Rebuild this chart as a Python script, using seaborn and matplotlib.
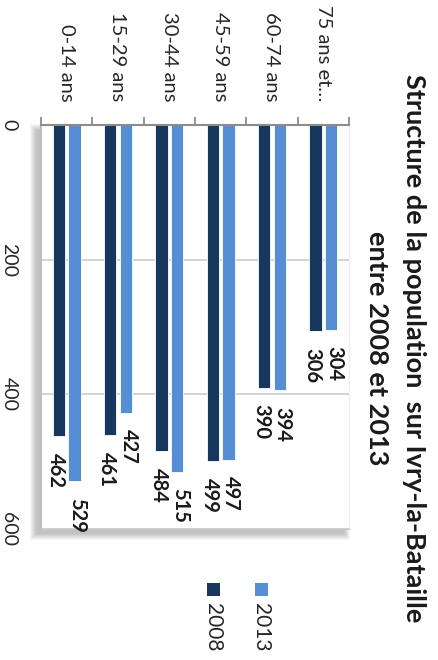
import matplotlib
matplotlib.use("Agg")
import matplotlib.pyplot as plt
from matplotlib.patches import Rectangle
import seaborn as sns
import pandas as pd

# Age groups and population counts per census year
age_groups = ["0-14 ans", "15-29 ans", "30-44 ans", "45-59 ans", "60-74 ans", "75 ans et…"]
pop_2008 = [462, 461, 484, 499, 390, 306]
pop_2013 = [529, 427, 515, 497, 394, 304]
years = ["2008", "2013"]
value_ticks = [0, 200, 400, 600]

title_line1 = "Structure de la population  sur Ivry-la-Bataille"
title_line2 = "entre 2008 et 2013"

colors = {"2008": "#17375E", "2013": "#558ED5"}

df = pd.DataFrame({
    "age": age_groups * 2,
    "pop": pop_2008 + pop_2013,
    "year": ["2008"] * len(age_groups) + ["2013"] * len(age_groups),
})

sns.set_theme(style="white")
plt.rcParams["font.family"] = ["Lato", "DejaVu Sans"]

W, H = 438, 660
fig = plt.figure(figsize=(W / 100, H / 100), dpi=100)
fig.patch.set_facecolor("white")


def fx(px):
    return px / W


def fy(py):
    return 1 - py / H


# plot area in pixel coordinates (top-left origin)
px0, px1, py_top, py_bot = 41, 349, 125, 529

# soft drop shadow behind the plot area
for k in range(7):
    sx0 = px0 - 5 - k
    sx1 = px1 - 5 + k
    sy0 = py_top + 5 - k
    sy1 = py_bot + 5 + k
    fig.patches.append(Rectangle((fx(sx0), fy(sy1)), fx(sx1) - fx(sx0), fy(sy0) - fy(sy1),
                                 transform=fig.transFigure, facecolor="#000000",
                                 alpha=0.035, edgecolor="none", zorder=0))

ax = fig.add_axes([fx(px0), fy(py_bot), fx(px1) - fx(px0), fy(py_top) - fy(py_bot)])
ax.set_facecolor("white")
ax.set_zorder(2)

sns.barplot(data=df, x="age", y="pop", hue="year", order=age_groups, hue_order=years,
            palette=colors, width=0.6, gap=0.2, ax=ax, legend=False,
            edgecolor="white", linewidth=0.6, saturation=1)

ax.set_ylim(600, 0)
ax.set_xlim(-0.5, len(age_groups) - 0.5)
ax.set_xlabel("")
ax.set_ylabel("")

# value gridlines
ax.set_yticks(value_ticks)
for v in value_ticks[1:-1]:
    ax.axhline(v, color="#D0D0D0", linewidth=1.3, zorder=0)

# category axis along the top, ticks between groups
ax.xaxis.tick_top()
ax.set_xticks(range(len(age_groups)))
ax.set_xticks([i - 0.5 for i in range(len(age_groups) + 1)], minor=True)
ax.tick_params(axis="x", which="major", length=0, pad=17)
ax.tick_params(axis="x", which="minor", length=6, width=1.3, color="#8C8C8C", top=True, bottom=False)
ax.set_xticklabels(age_groups, rotation=-90, fontsize=14.5, color="#262626", ha="center", va="bottom")

ax.tick_params(axis="y", length=0, pad=17)
ax.set_yticklabels([str(v) for v in value_ticks], rotation=-90, fontsize=14, color="#262626",
                   ha="right", va="center")

for side in ["left", "right", "bottom", "top"]:
    ax.spines[side].set_visible(True)
ax.spines["top"].set_color("#8C8C8C")
ax.spines["top"].set_linewidth(1.5)
ax.spines["left"].set_color("#BDBDBD")
ax.spines["left"].set_linewidth(1.5)
ax.spines["bottom"].set_color("#C8C8C8")
ax.spines["bottom"].set_linewidth(1.2)
ax.spines["right"].set_color("#EEEEEE")
ax.spines["right"].set_linewidth(1.0)

# value labels beyond the end of each bar, nudged apart within each group
nudge = {"2008": -2.2, "2013": 2.2}
for yr, container in zip(years, ax.containers):
    for bar, val in zip(container.patches, container.datavalues):
        cx = bar.get_x() + bar.get_width() / 2
        ax.annotate(f"{val:.0f}", xy=(cx, val), xytext=(nudge[yr], -12),
                    textcoords="offset points", rotation=-90, ha="center", va="top",
                    fontsize=14.5, fontweight="bold", color="#1A1A1A",
                    annotation_clip=False)

# title on the right, reading downward
fig.text(fx(414), fy(348), title_line1, rotation=-90, ha="center", va="center",
         fontsize=19.5, fontweight="bold", color="#1A1A1A")
fig.text(fx(377), fy(348), title_line2, rotation=-90, ha="center", va="center",
         fontsize=19.5, fontweight="bold", color="#1A1A1A")

# legend below the plot
legend_x = {"2008": 213.5, "2013": 261.5}
for yr in years:
    cx = legend_x[yr]
    fig.patches.append(Rectangle((fx(cx - 6.5), fy(595.5)), fx(13), fy(583) - fy(595.5),
                                 transform=fig.transFigure, facecolor=colors[yr],
                                 edgecolor="none", zorder=3))
    fig.text(fx(cx), fy(603), yr, rotation=-90, ha="center", va="top",
             fontsize=15, color="#262626")

fig.savefig("out.png", dpi=100, facecolor="white")
